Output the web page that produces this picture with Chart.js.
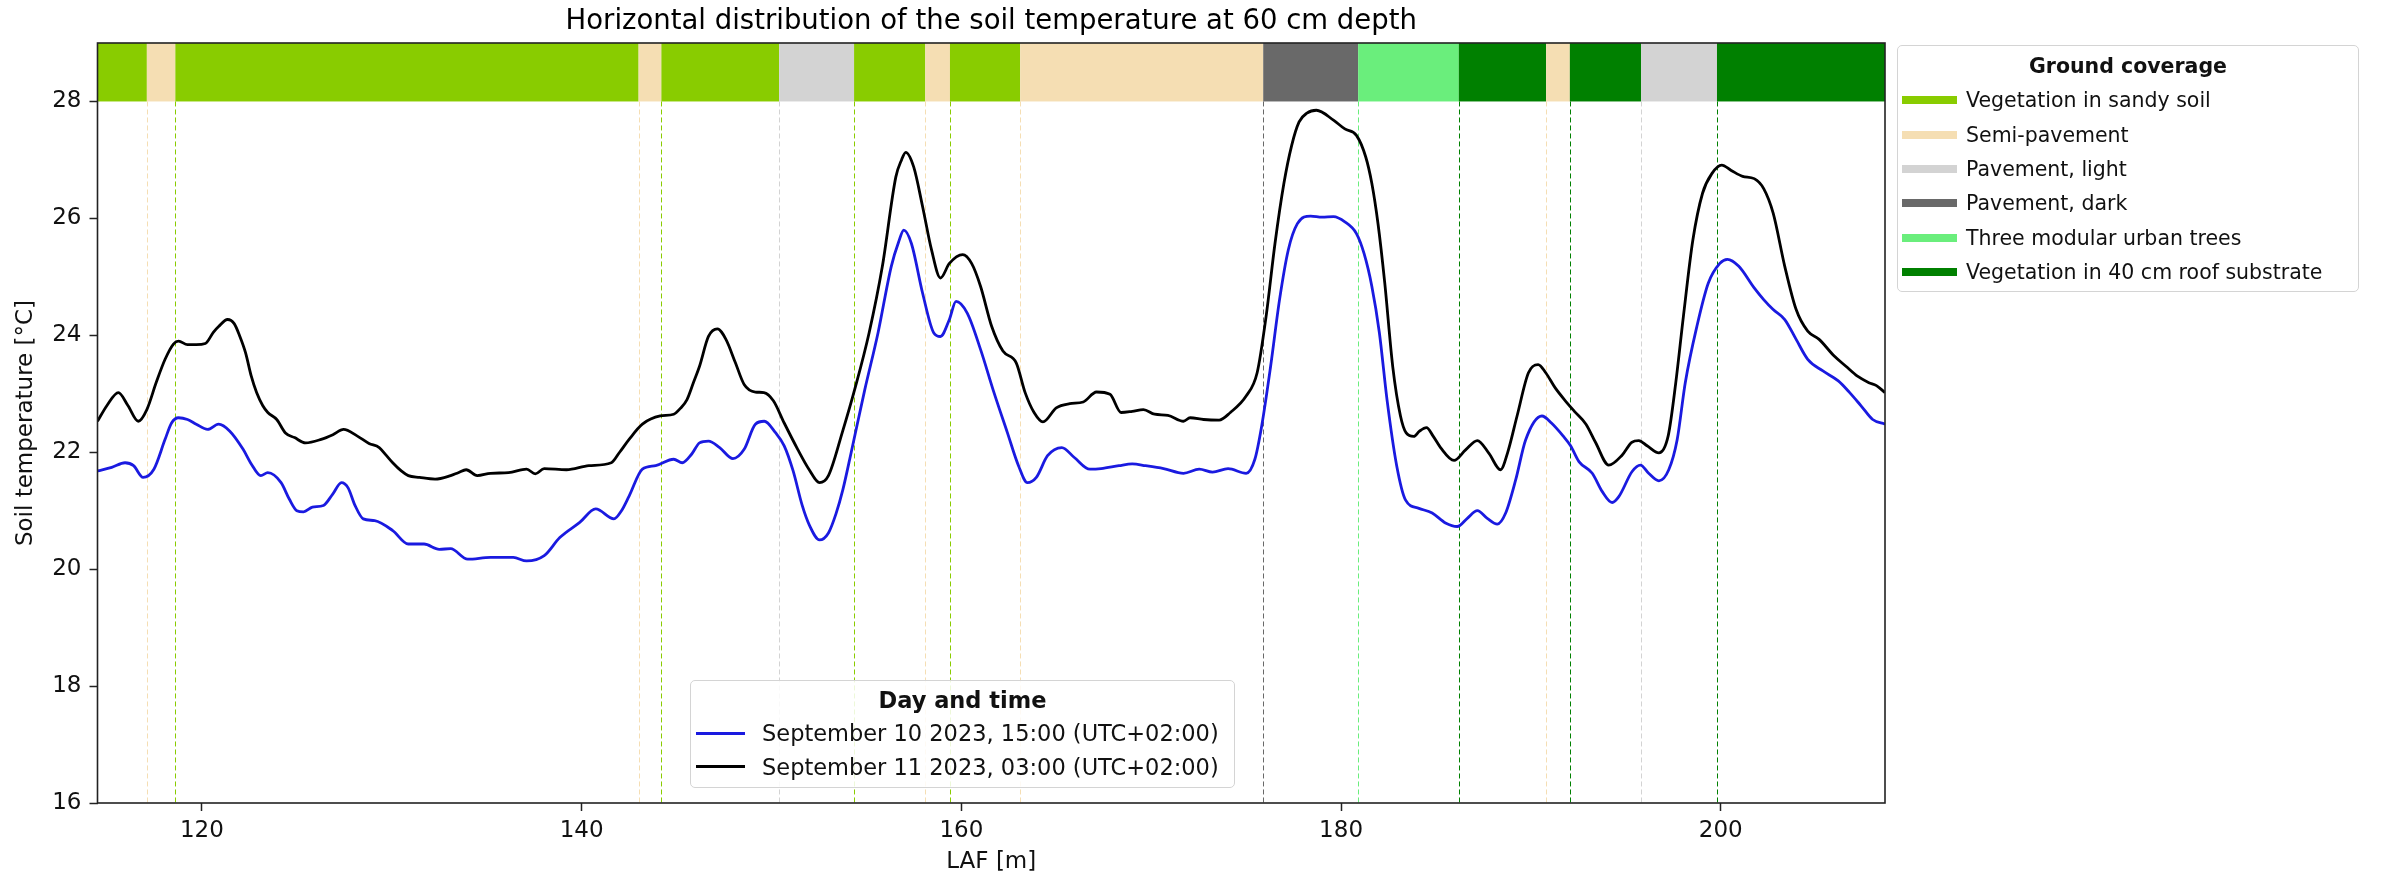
<!DOCTYPE html>
<html>
<head>
<meta charset="utf-8">
<script src="https://cdn.jsdelivr.net/npm/chart.js@4.4.1/dist/chart.umd.min.js"></script>
<style>
  body { margin: 0; background: #fff; }
  #wrap { position: relative; width: 2384px; height: 876px; }
  #chart { position: absolute; left: 0; top: 0; }
  .leg {
    position: absolute; box-sizing: border-box;
    border: 1.5px solid #d4d4d4; border-radius: 5px;
    background: rgba(255,255,255,0.85);
    font-family: "DejaVu Sans", sans-serif; color: #111;
  }
  .leg .row { display: flex; align-items: center; white-space: nowrap; }
  .leg .ttl { justify-content: center; font-weight: bold; }
  #legCover { left: 1897px; top: 45px; width: 462px; height: 247px; padding-top: 3px; font-size: 20.5px; }
  #legCover .row { height: 34.3px; }
  #legCover .sw { width: 55px; height: 8px; margin-left: 4px; margin-right: 9px; }
  #legTime { left: 690px; top: 680px; width: 545px; height: 108px; padding-top: 2px; font-size: 22.5px; }
  #legTime .row { height: 33.5px; }
  #legTime .sw { width: 49px; height: 2.8px; margin-left: 5px; margin-right: 17px; }
</style>
</head>
<body>
<div id="wrap">
  <canvas id="chart" width="2384" height="876"></canvas>
  <div id="legCover" class="leg"></div>
  <div id="legTime" class="leg"></div>
</div>
<script>
// September 10, 15:00
const lafBlue = [114.5, 115.25, 115.95, 116.4, 116.9, 117.47, 118.06, 118.4, 118.77, 119.24, 119.7, 120.3, 120.88, 121.47, 122.17, 122.6, 123.1, 123.47, 124.17, 124.6, 125.0, 125.35, 125.82, 126.4, 126.88, 127.35, 127.7, 128.05, 128.5, 129.1, 130.05, 130.87, 131.7, 132.5, 133.1, 134.0, 135.2, 136.4, 137.1, 138.03, 138.85, 139.9, 140.74, 141.7, 142.1, 142.5, 143.2, 143.9, 144.85, 145.3, 145.8, 146.21, 146.68, 147.27, 147.97, 148.56, 149.15, 149.62, 150.2, 150.67, 151.14, 151.61, 152.0, 152.53, 153.0, 153.4, 153.76, 154.2, 154.9, 155.61, 156.31, 156.7, 156.97, 157.37, 157.96, 158.55, 158.9, 159.37, 159.72, 160.31, 161.01, 161.72, 162.42, 163.01, 163.48, 163.95, 164.54, 165.29, 165.95, 166.77, 167.36, 168.3, 169.0, 169.7, 170.65, 171.7, 172.53, 173.23, 174.05, 175.0, 175.46, 175.82, 176.29, 176.76, 177.22, 177.7, 178.4, 179.0, 179.6, 180.2, 180.81, 181.21, 181.62, 182.02, 182.42, 182.93, 183.4, 184.1, 184.8, 185.5, 186.12, 186.65, 187.18, 187.7, 188.23, 188.67, 189.2, 189.72, 190.58, 191.08, 191.69, 192.09, 192.53, 193.23, 193.75, 194.28, 194.63, 195.33, 195.77, 196.2, 196.74, 197.26, 197.7, 198.13, 198.74, 199.34, 199.95, 200.35, 200.95, 201.76, 202.26, 202.76, 203.37, 203.97, 204.58, 205.38, 206.19, 206.79, 207.4, 208.0, 208.65];
const tempBlue = [21.68, 21.74, 21.82, 21.77, 21.57, 21.71, 22.22, 22.5, 22.59, 22.56, 22.48, 22.39, 22.48, 22.36, 22.05, 21.8, 21.6, 21.65, 21.48, 21.2, 21.0, 20.98, 21.06, 21.09, 21.28, 21.48, 21.39, 21.1, 20.86, 20.83, 20.66, 20.43, 20.43, 20.34, 20.35, 20.17, 20.2, 20.2, 20.14, 20.23, 20.54, 20.8, 21.03, 20.86, 21.0, 21.25, 21.71, 21.77, 21.88, 21.82, 21.97, 22.16, 22.19, 22.08, 21.89, 22.05, 22.48, 22.53, 22.34, 22.11, 21.68, 21.1, 20.75, 20.5, 20.62, 20.95, 21.36, 22.0, 23.05, 24.04, 25.18, 25.6, 25.8, 25.57, 24.72, 24.04, 23.98, 24.27, 24.58, 24.38, 23.76, 23.02, 22.34, 21.77, 21.48, 21.57, 21.94, 22.08, 21.91, 21.71, 21.72, 21.77, 21.8, 21.77, 21.72, 21.64, 21.71, 21.66, 21.72, 21.64, 21.88, 22.45, 23.47, 24.61, 25.46, 25.91, 26.04, 26.02, 26.03, 25.94, 25.74, 25.4, 24.84, 24.04, 22.9, 21.77, 21.18, 21.04, 20.96, 20.79, 20.73, 20.87, 21.0, 20.87, 20.77, 20.96, 21.53, 22.21, 22.62, 22.5, 22.28, 22.11, 21.84, 21.64, 21.33, 21.14, 21.24, 21.67, 21.78, 21.64, 21.51, 21.7, 22.21, 23.19, 24.15, 24.89, 25.23, 25.3, 25.18, 24.81, 24.61, 24.44, 24.27, 23.93, 23.59, 23.39, 23.22, 23.02, 22.79, 22.56, 22.48];

// September 11, 03:00
const lafBlack = [114.5, 115.0, 115.6, 116.1, 116.65, 117.1, 117.6, 118.06, 118.5, 118.77, 119.24, 119.7, 120.18, 120.6, 120.88, 121.35, 121.7, 122.0, 122.3, 122.6, 122.88, 123.2, 123.47, 123.94, 124.4, 124.88, 125.46, 126.28, 126.9, 127.46, 128.17, 128.8, 129.34, 129.7, 130.05, 130.5, 130.87, 131.46, 132.28, 133.1, 133.5, 133.92, 134.5, 135.2, 136.15, 137.1, 137.56, 138.03, 139.2, 140.38, 141.56, 142.0, 142.5, 143.2, 144.14, 144.85, 145.2, 145.55, 145.9, 146.21, 146.68, 147.15, 147.6, 148.1, 148.56, 149.15, 149.6, 150.1, 150.67, 151.38, 151.97, 152.53, 153.0, 153.73, 154.43, 155.14, 155.84, 156.55, 156.85, 157.07, 157.49, 157.96, 158.43, 158.9, 159.37, 160.07, 160.54, 161.01, 161.6, 162.19, 162.89, 163.36, 163.83, 164.3, 165.0, 165.71, 166.42, 167.12, 167.83, 168.41, 169.0, 169.59, 170.18, 170.88, 171.7, 172.05, 172.76, 173.58, 174.17, 175.0, 175.58, 176.05, 176.52, 176.99, 177.4, 177.79, 178.2, 178.7, 179.6, 180.2, 180.81, 181.3, 181.62, 181.95, 182.3, 182.72, 183.13, 183.43, 183.83, 184.13, 184.5, 184.84, 185.24, 185.95, 186.56, 187.18, 187.79, 188.4, 188.77, 189.27, 189.87, 190.38, 190.78, 191.28, 191.89, 192.29, 192.9, 193.4, 194.1, 194.8, 195.31, 195.68, 196.12, 196.74, 197.23, 197.63, 198.03, 198.53, 199.04, 199.54, 200.05, 200.55, 201.15, 201.76, 202.26, 202.76, 203.37, 203.97, 204.58, 205.18, 205.99, 206.59, 207.2, 207.8, 208.2, 208.65];
const tempBlack = [22.53, 22.8, 23.02, 22.8, 22.53, 22.73, 23.2, 23.59, 23.85, 23.9, 23.84, 23.84, 23.86, 24.05, 24.15, 24.27, 24.2, 23.98, 23.7, 23.3, 23.02, 22.8, 22.68, 22.56, 22.33, 22.25, 22.16, 22.22, 22.3, 22.39, 22.28, 22.15, 22.08, 21.95, 21.82, 21.68, 21.6, 21.57, 21.54, 21.6, 21.65, 21.7, 21.6, 21.64, 21.65, 21.71, 21.63, 21.72, 21.7, 21.77, 21.82, 22.0, 22.22, 22.48, 22.62, 22.65, 22.75, 22.9, 23.2, 23.47, 23.98, 24.11, 23.93, 23.53, 23.16, 23.03, 23.02, 22.88, 22.5, 22.05, 21.71, 21.48, 21.6, 22.34, 23.13, 24.04, 25.18, 26.71, 27.0, 27.13, 26.88, 26.2, 25.46, 24.98, 25.23, 25.38, 25.23, 24.84, 24.15, 23.73, 23.53, 23.02, 22.68, 22.52, 22.76, 22.83, 22.86, 23.03, 22.99, 22.68, 22.7, 22.73, 22.65, 22.63, 22.53, 22.59, 22.56, 22.55, 22.68, 22.96, 23.36, 24.32, 25.57, 26.6, 27.25, 27.65, 27.8, 27.85, 27.68, 27.53, 27.42, 27.05, 26.6, 25.9, 24.9, 23.47, 22.62, 22.33, 22.27, 22.36, 22.42, 22.28, 22.08, 21.86, 22.04, 22.2, 21.98, 21.7, 21.99, 22.62, 23.36, 23.5, 23.36, 23.1, 22.85, 22.7, 22.48, 22.17, 21.78, 21.95, 22.17, 22.2, 22.11, 21.99, 22.28, 23.19, 24.32, 25.63, 26.43, 26.77, 26.91, 26.82, 26.72, 26.68, 26.51, 26.09, 25.18, 24.44, 24.07, 23.93, 23.64, 23.47, 23.3, 23.19, 23.14, 23.02];

const seriesLabels = ["September 10 2023, 15:00 (UTC+02:00)", "September 11 2023, 03:00 (UTC+02:00)"];
const seriesColors = ["#1a1ae0", "#000000"];

// ground coverage strip along the profile
const coverEdges = [114.5, 117.1, 118.6, 143.0, 144.2, 150.4, 154.35, 158.1, 159.4, 163.1, 175.9, 180.9, 186.2, 190.8, 192.05, 195.8, 199.8, 208.65];
const coverType = [0, 1, 0, 1, 0, 2, 0, 1, 0, 1, 3, 4, 5, 1, 5, 2, 5];
const coverLabels = ["Vegetation in sandy soil", "Semi-pavement", "Pavement, light", "Pavement, dark", "Three modular urban trees", "Vegetation in 40 cm roof substrate"];
const coverColors = ["#89cc00", "#f5deb3", "#d3d3d3", "#696969", "#6aee7c", "#008000"];

const xTicks = [120, 140, 160, 180, 200];
const yTicks = [16, 18, 20, 22, 24, 26, 28];
const FONT = "DejaVu Sans";

const coverPlugin = {
  id: "cover",
  beforeDatasetsDraw(chart) {
    const { ctx, chartArea, scales: { x, y } } = chart;
    const yTop = y.getPixelForValue(29), yMid = y.getPixelForValue(28), yBot = y.getPixelForValue(16);
    ctx.save();
    ctx.beginPath();
    ctx.rect(chartArea.left, chartArea.top, chartArea.width, chartArea.height);
    ctx.clip();
    for (let i = 0; i < coverType.length; i++) {
      const x0 = x.getPixelForValue(coverEdges[i]);
      const x1 = x.getPixelForValue(coverEdges[i + 1]);
      const col = coverColors[coverType[i]];
      ctx.fillStyle = col;
      ctx.fillRect(x0, yTop, x1 - x0, yMid - yTop);
      if (i > 0) {
        ctx.strokeStyle = col;
        ctx.lineWidth = 1;
        ctx.setLineDash([5, 3]);
        ctx.beginPath();
        ctx.moveTo(Math.round(x0) + 0.5, yMid);
        ctx.lineTo(Math.round(x0) + 0.5, yBot);
        ctx.stroke();
      }
    }
    ctx.restore();
  }
};

const framePlugin = {
  id: "frame",
  afterDraw(chart) {
    const { ctx, chartArea: a } = chart;
    ctx.save();
    ctx.strokeStyle = "#222";
    ctx.lineWidth = 1.6;
    ctx.strokeRect(a.left, a.top, a.right - a.left, a.bottom - a.top);
    ctx.restore();
  }
};

const toPts = (xs, ys) => xs.map((v, i) => ({ x: v, y: ys[i] }));

new Chart(document.getElementById("chart"), {
  type: "line",
  data: {
    datasets: [
      { label: seriesLabels[0], data: toPts(lafBlue, tempBlue), borderColor: seriesColors[0], borderWidth: 2.8, pointRadius: 0, cubicInterpolationMode: "monotone" },
      { label: seriesLabels[1], data: toPts(lafBlack, tempBlack), borderColor: seriesColors[1], borderWidth: 2.8, pointRadius: 0, cubicInterpolationMode: "monotone" }
    ]
  },
  options: {
    responsive: false,
    animation: false,
    devicePixelRatio: 1,
    layout: { padding: { left: 0, right: 499, top: 0, bottom: 0 } },
    plugins: {
      legend: { display: false },
      tooltip: { enabled: false },
      title: {
        display: true, fullSize: false,
        text: "Horizontal distribution of the soil temperature at 60 cm depth",
        color: "#000", font: { family: FONT, size: 27.5, weight: "normal" },
        padding: { top: 5.5, bottom: 4.5 }
      }
    },
    scales: {
      x: {
        type: "linear", min: 114.5, max: 208.65,
        afterFit: s => { s.height = 73; },
        afterBuildTicks: s => { s.ticks = xTicks.map(v => ({ value: v })); },
        border: { display: false },
        grid: { drawOnChartArea: false, drawTicks: true, tickLength: 8, tickColor: "#222", tickWidth: 1.5 },
        ticks: { color: "#111", font: { family: FONT, size: 23 }, padding: 6, maxRotation: 0 },
        title: { display: true, text: "LAF [m]", color: "#111", font: { family: FONT, size: 23 }, padding: { top: 4, bottom: 0 } }
      },
      y: {
        type: "linear", min: 16, max: 29,
        afterFit: s => { s.width = 97.5; },
        afterBuildTicks: s => { s.ticks = yTicks.map(v => ({ value: v })); },
        border: { display: false },
        grid: { drawOnChartArea: false, drawTicks: true, tickLength: 8, tickColor: "#222", tickWidth: 1.5 },
        ticks: { color: "#111", font: { family: FONT, size: 23 }, padding: 8 },
        title: { display: true, text: "Soil temperature [°C]", color: "#111", font: { family: FONT, size: 23 }, padding: { top: 12.5, bottom: 0 } }
      }
    }
  },
  plugins: [coverPlugin, framePlugin]
});

// legends
function legendRow(el, color, text) {
  const row = document.createElement("div");
  row.className = "row";
  const sw = document.createElement("span");
  sw.className = "sw";
  sw.style.background = color;
  row.appendChild(sw);
  row.appendChild(document.createTextNode(text));
  el.appendChild(row);
}
function legendTitle(el, text) {
  const t = document.createElement("div");
  t.className = "row ttl";
  t.textContent = text;
  el.appendChild(t);
}
const legCover = document.getElementById("legCover");
legendTitle(legCover, "Ground coverage");
coverLabels.forEach((l, i) => legendRow(legCover, coverColors[i], l));
const legTime = document.getElementById("legTime");
legendTitle(legTime, "Day and time");
seriesLabels.forEach((l, i) => legendRow(legTime, seriesColors[i], l));
</script>
</body>
</html>
